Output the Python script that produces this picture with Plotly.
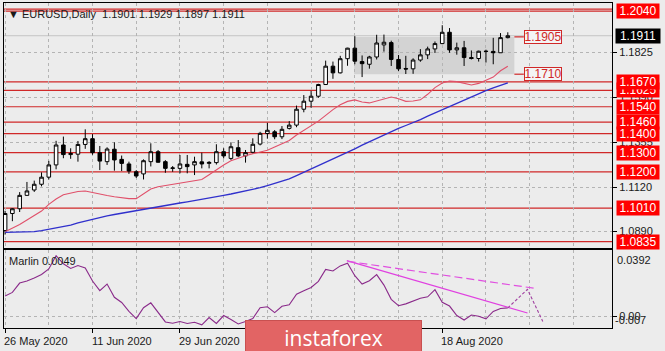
import plotly.graph_objects as go

# ---------------- data ----------------
dates = ["26 May","27 May","28 May","29 May","01 Jun","02 Jun","03 Jun","04 Jun","05 Jun","08 Jun",
         "09 Jun","10 Jun","11 Jun","12 Jun","15 Jun","16 Jun","17 Jun","18 Jun","19 Jun","22 Jun",
         "23 Jun","24 Jun","25 Jun","26 Jun","29 Jun","30 Jun","01 Jul","02 Jul","03 Jul","06 Jul",
         "07 Jul","08 Jul","09 Jul","10 Jul","13 Jul","14 Jul","15 Jul","16 Jul","17 Jul","20 Jul",
         "21 Jul","22 Jul","23 Jul","24 Jul","27 Jul","28 Jul","29 Jul","30 Jul","31 Jul","03 Aug",
         "04 Aug","05 Aug","06 Aug","07 Aug","10 Aug","11 Aug","12 Aug","13 Aug","14 Aug","17 Aug",
         "18 Aug","19 Aug","20 Aug","21 Aug","24 Aug","25 Aug","26 Aug","27 Aug","28 Aug","31 Aug"]

opens = [1.0893,1.0982,1.1007,1.1077,1.1105,1.1135,1.1172,1.1236,1.1340,1.1290,
         1.1292,1.1343,1.1373,1.1300,1.1253,1.1318,1.1265,1.1241,1.1200,1.1189,
         1.1253,1.1305,1.1253,1.1218,1.1218,1.1239,1.1236,1.1252,1.1244,1.1248,
         1.1305,1.1270,1.1326,1.1283,1.1302,1.1345,1.1400,1.1409,1.1383,1.1427,
         1.1444,1.1527,1.1569,1.1595,1.1656,1.1752,1.1717,1.1791,1.1846,1.1776,
         1.1762,1.1800,1.1863,1.1875,1.1787,1.1740,1.1738,1.1784,1.1811,1.1842,
         1.1870,1.1929,1.1837,1.1848,1.1797,1.1792,1.1830,1.1829,1.1822,1.1901]
highs = [1.0996,1.1010,1.1094,1.1147,1.1154,1.1197,1.1257,1.1362,1.1384,1.1323,
         1.1361,1.1422,1.1397,1.1335,1.1328,1.1354,1.1285,1.1253,1.1209,1.1265,
         1.1349,1.1314,1.1261,1.1230,1.1288,1.1288,1.1279,1.1300,1.1256,1.1344,
         1.1323,1.1354,1.1366,1.1314,1.1375,1.1409,1.1456,1.1418,1.1439,1.1465,
         1.1546,1.1601,1.1623,1.1660,1.1781,1.1776,1.1806,1.1848,1.1909,1.1808,
         1.1806,1.1916,1.1917,1.1885,1.1810,1.1806,1.1793,1.1841,1.1854,1.1881,
         1.1966,1.1951,1.1875,1.1884,1.1834,1.1833,1.1838,1.1900,1.1925,1.1929]
lows = [1.0872,1.0942,1.0990,1.1075,1.1095,1.1124,1.1160,1.1213,1.1271,1.1268,
        1.1253,1.1320,1.1289,1.1209,1.1236,1.1206,1.1204,1.1189,1.1168,1.1160,
        1.1228,1.1248,1.1195,1.1200,1.1192,1.1192,1.1183,1.1218,1.1218,1.1238,
        1.1270,1.1262,1.1276,1.1248,1.1295,1.1338,1.1373,1.1370,1.1371,1.1421,
        1.1433,1.1511,1.1535,1.1587,1.1655,1.1686,1.1714,1.1754,1.1762,1.1695,
        1.1739,1.1787,1.1828,1.1753,1.1727,1.1711,1.1712,1.1775,1.1789,1.1821,
        1.1867,1.1822,1.1812,1.1753,1.1787,1.1776,1.1771,1.1762,1.1822,1.1897]
closes = [1.0982,1.1007,1.1077,1.1100,1.1135,1.1172,1.1236,1.1340,1.1290,1.1296,
          1.1343,1.1373,1.1300,1.1256,1.1319,1.1262,1.1244,1.1204,1.1178,1.1258,
          1.1305,1.1250,1.1218,1.1220,1.1241,1.1227,1.1253,1.1241,1.1249,1.1305,
          1.1283,1.1331,1.1283,1.1300,1.1344,1.1401,1.1417,1.1383,1.1422,1.1444,
          1.1527,1.1569,1.1595,1.1656,1.1752,1.1717,1.1791,1.1846,1.1778,1.1765,
          1.1800,1.1873,1.1877,1.1787,1.1738,1.1737,1.1784,1.1811,1.1842,1.1870,
          1.1929,1.1837,1.1848,1.1797,1.1792,1.1830,1.1829,1.1822,1.1901,1.1911]

red_ma = [1.0887,1.0905,1.0925,1.0948,1.0970,1.0995,1.1030,1.1058,1.1080,1.1088,
          1.1097,1.1100,1.1092,1.1081,1.1076,1.1070,1.1066,1.1060,1.1060,1.1085,
          1.1110,1.1122,1.1128,1.1133,1.1140,1.1147,1.1153,1.1160,1.1185,1.1212,
          1.1236,1.1258,1.1272,1.1284,1.1294,1.1303,1.1313,1.1330,1.1348,1.1364,
          1.1392,1.1415,1.1440,1.1465,1.1495,1.1525,1.1550,1.1568,1.1576,1.1565,
          1.1560,1.1570,1.1584,1.1591,1.1582,1.1568,1.1570,1.1576,1.1605,1.1640,
          1.1664,1.1674,1.1671,1.1662,1.1654,1.1662,1.1677,1.1695,1.1728,1.1752]
blue_ma = [1.0884,1.0884,1.0885,1.0886,1.0887,1.0893,1.0900,1.0907,1.0915,1.0922,
           1.0933,1.0943,1.0953,1.0963,1.0970,1.0977,1.0984,1.0991,1.0998,1.1005,
           1.1012,1.1018,1.1024,1.1030,1.1037,1.1043,1.1049,1.1055,1.1062,1.1070,
           1.1077,1.1084,1.1092,1.1099,1.1106,1.1117,1.1128,1.1140,1.1151,1.1163,
           1.1180,1.1197,1.1214,1.1231,1.1248,1.1265,1.1283,1.1302,1.1320,1.1339,
           1.1357,1.1376,1.1394,1.1413,1.1427,1.1442,1.1456,1.1473,1.1491,1.1508,
           1.1526,1.1543,1.1559,1.1575,1.1592,1.1608,1.1624,1.1638,1.1651,1.1665]

marlin = [0.0120,0.0141,0.0196,0.0208,0.0226,0.0247,0.0280,0.0358,0.0310,0.0283,
          0.0300,0.0286,0.0208,0.0151,0.0190,0.0112,0.0081,0.0029,-0.0014,0.0050,
          0.0079,0.0021,-0.0034,-0.0042,-0.0032,-0.0043,-0.0036,-0.0051,-0.0008,-0.0043,
          0.0004,-0.0020,-0.0046,-0.0032,-0.0014,0.0050,0.0056,0.0021,0.0059,0.0067,
          0.0130,0.0151,0.0170,0.0206,0.0277,0.0268,0.0298,0.0314,0.0240,0.0190,
          0.0210,0.0246,0.0184,0.0100,0.0062,0.0073,0.0091,0.0106,0.0115,0.0157,
          0.0082,0.0060,0.0004,-0.0023,0.0007,0.0000,-0.0016,0.0028,0.0046,0.0049]

# drawn objects on the Marlin window (bar index, value)
trend_solid_x = [46.9, 71.7]
trend_solid_y = [0.0329, 0.0019]
trend_dash_x = [47.0, 72.7]
trend_dash_y = [0.0325, 0.0165]
forecast_x = [69.0, 71.7, 73.8]
forecast_y = [0.0049, 0.0159, -0.0031]

# horizontal levels on the price window
levels = [1.2050, 1.2040, 1.1670, 1.1625, 1.1540, 1.1460, 1.1400, 1.1300, 1.1200, 1.1010, 1.0835]
level_labels = [1.1625, 1.2040, 1.1670, 1.1540, 1.1460, 1.1400, 1.1300, 1.1200, 1.1010, 1.0835]
box_top, box_bottom = 1.1905, 1.1710
box_start, box_end = 47.9, 69.9
box_label_x = 71.2
last_price = 1.1911

price_ticks = [1.0890, 1.1120, 1.1355, 1.1590, 1.1825]
date_tick_idx = [0, 12, 24, 36, 48, 60]
date_label_idx = [0, 12, 24, 60]
date_label_text = ["26 May 2020", "11 Jun 2020", "29 Jun 2020", "18 Aug 2020"]
grid_minor_idx = [6, 18, 30, 42, 54, 66, 72, 78]
grid_idx = [0, 6, 12, 18, 24, 30, 36, 42, 48, 54, 60, 66, 72, 78]
marlin_max, marlin_min = 0.0392, -0.007

# ---------------- figure ----------------
FONT = "Liberation Sans"
BG = "#ececec"
GRID = "#b4b4b4"
LVL = "#d02828"
idx = list(range(len(dates)))

fig = go.Figure()
fig.add_trace(go.Candlestick(
    x=idx, open=opens, high=highs, low=lows, close=closes,
    increasing=dict(line=dict(color="black", width=1), fillcolor="white"),
    decreasing=dict(line=dict(color="black", width=1), fillcolor="black"),
    whiskerwidth=0, hoverinfo="skip", xaxis="x", yaxis="y"))
fig.add_trace(go.Scatter(x=idx, y=red_ma, mode="lines", line=dict(color="#e0506a", width=1.1),
                         hoverinfo="skip", xaxis="x", yaxis="y"))
fig.add_trace(go.Scatter(x=idx, y=blue_ma, mode="lines", line=dict(color="#3030cc", width=1.3),
                         hoverinfo="skip", xaxis="x", yaxis="y"))

fig.add_trace(go.Scatter(x=idx, y=marlin, mode="lines", line=dict(color="#8a2a8a", width=1.1),
                         hoverinfo="skip", xaxis="x2", yaxis="y2"))
fig.add_trace(go.Scatter(x=trend_solid_x, y=trend_solid_y, mode="lines",
                         line=dict(color="#e040e0", width=1.2), hoverinfo="skip", xaxis="x2", yaxis="y2"))
fig.add_trace(go.Scatter(x=trend_dash_x, y=trend_dash_y, mode="lines",
                         line=dict(color="#e050e0", width=1.2, dash="8px,4px"), hoverinfo="skip", xaxis="x2", yaxis="y2"))
fig.add_trace(go.Scatter(x=forecast_x, y=forecast_y, mode="lines",
                         line=dict(color="#a040a0", width=1.1, dash="3px,2px"), hoverinfo="skip", xaxis="x2", yaxis="y2"))

shapes = []
shapes.append(dict(type="rect", xref="x", yref="y", x0=box_start, x1=box_end, y0=box_bottom, y1=box_top,
                   fillcolor="#d3d3d3", line=dict(width=0), layer="below"))
shapes.append(dict(type="line", xref="paper", yref="y", x0=0, x1=1, y0=last_price, y1=last_price,
                   line=dict(color="#c4c4c4", width=1), layer="below"))
for lv in levels:
    shapes.append(dict(type="line", xref="paper", yref="y", x0=0, x1=1, y0=lv, y1=lv,
                       line=dict(color=LVL, width=1.2), layer="below"))
for yv in (box_top, box_bottom):
    shapes.append(dict(type="line", xref="x", yref="y", x0=box_end, x1=box_label_x, y0=yv, y1=yv,
                       line=dict(color=LVL, width=1.2)))

ann = []
ann.append(dict(xref="paper", yref="paper", x=0, y=1, xanchor="left", yanchor="top", xshift=2, yshift=-3,
                text="\u25bc EURUSD,Daily  1.1901 1.1929 1.1897 1.1911", showarrow=False,
                font=dict(family=FONT, size=11, color="#1a1a1a")))
for lv in level_labels:
    ann.append(dict(xref="paper", yref="y", x=1, y=lv, xanchor="left", yanchor="middle", xshift=4,
                    text=f"{lv:.4f}", showarrow=False, bgcolor="#ff0000", width=42, height=14, borderpad=0,
                    font=dict(family=FONT, size=12, color="white")))
ann.append(dict(xref="paper", yref="y", x=1, y=last_price, xanchor="left", yanchor="middle", xshift=3,
                text=f"{last_price:.4f}", showarrow=False, bgcolor="#000000", width=44, height=14, borderpad=0,
                font=dict(family=FONT, size=12, color="white")))
for yv in (box_top, box_bottom):
    ann.append(dict(xref="x", yref="y", x=box_label_x, y=yv, xanchor="left", yanchor="middle",
                    text=f"{yv:.4f}", showarrow=False, bgcolor="#f4f4f4", bordercolor=LVL, borderwidth=1,
                    borderpad=0, width=36, height=12, font=dict(family=FONT, size=12, color=LVL)))
ann.append(dict(xref="paper", yref="paper", x=0, y=0.24, xanchor="left", yanchor="top", xshift=3, yshift=-3,
                text="Marlin 0.0049", showarrow=False, font=dict(family=FONT, size=11, color="#1a1a1a")))
ann.append(dict(xref="paper", yref="y2", x=1, y=marlin_max, xanchor="left", yanchor="top", xshift=3, yshift=-2,
                text="0.0392", showarrow=False, font=dict(family=FONT, size=11, color="#1a1a1a")))
ann.append(dict(xref="paper", yref="y2", x=1, y=marlin_min, xanchor="left", yanchor="bottom", xshift=1, yshift=0,
                text="-0.007", showarrow=False, font=dict(family=FONT, size=11, color="#1a1a1a")))
for i, t in zip(date_label_idx, date_label_text):
    ann.append(dict(xref="x2", yref="paper", x=i, y=0, xanchor="left", yanchor="top", xshift=-3, yshift=-5,
                    text=t, showarrow=False, font=dict(family=FONT, size=11, color="#1a1a1a")))
ann.append(dict(xref="paper", yref="paper", x=0.3964, y=0.0246, xanchor="left", yanchor="top",
                text="instaforex", showarrow=False, bgcolor="#e26464", bordercolor="#c85050",
                borderwidth=1, width=175, height=34, borderpad=0,
                font=dict(family="Open Sans", size=21, color="white")))

axis_common = dict(showline=True, linecolor="black", linewidth=1, mirror=True, zeroline=False)
fig.update_layout(
    width=665, height=351, margin=dict(l=4, r=53, t=3, b=23),
    paper_bgcolor=BG, plot_bgcolor=BG, showlegend=False,
    shapes=shapes, annotations=ann,
    xaxis=dict(domain=[0, 1], anchor="y", range=[-0.15, 83.3], tickvals=grid_idx, showticklabels=False,
               ticks="", showgrid=True, gridcolor=GRID, griddash="3px,3px", gridwidth=1,
               rangeslider=dict(visible=False), **axis_common),
    yaxis=dict(domain=[0.2462, 1], anchor="x", side="right", range=[1.0802, 1.2082], tickvals=price_ticks,
               tickformat=".4f", ticks="outside", ticklen=4, tickcolor="black",
               tickfont=dict(family=FONT, size=11, color="#1a1a1a"),
               showgrid=True, gridcolor=GRID, griddash="3px,3px", gridwidth=1, **axis_common),
    xaxis2=dict(domain=[0, 1], anchor="y2", matches="x", range=[-0.15, 83.3], tickvals=date_tick_idx,
                showticklabels=False, ticks="outside", ticklen=4, tickcolor="black",
                showgrid=True, gridcolor=GRID, griddash="3px,3px", gridwidth=1,
                minor=dict(tickvals=grid_minor_idx, showgrid=True, gridcolor=GRID,
                           griddash="3px,3px", ticks=""),
                **axis_common),
    yaxis2=dict(domain=[0, 0.24], anchor="x2", side="right", range=[marlin_min, marlin_max],
                tickvals=[0], ticktext=["0.00"], ticks="outside", ticklen=4, tickcolor="black",
                tickfont=dict(family=FONT, size=11, color="#1a1a1a"),
                showgrid=True, gridcolor=GRID, griddash="3px,3px", gridwidth=1, **axis_common),
)

fig.write_html("out.html")
